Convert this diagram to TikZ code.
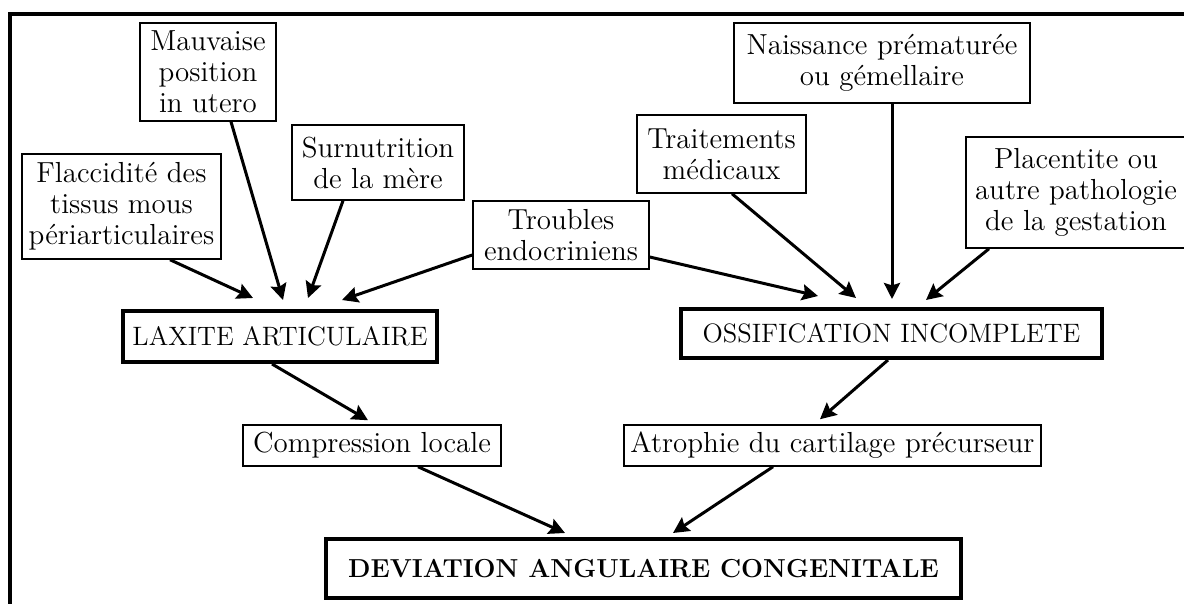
\documentclass[tikz,border=0pt]{standalone}
\usepackage{tikz}
\usetikzlibrary{arrows.meta,calc}

\begin{document}
\begin{tikzpicture}[x=0.5pt,y=-0.5pt,
  box/.style={draw,line width=0.75pt,align=center,inner sep=0pt,font=\fontsize{14.5}{15.5}\selectfont},
  bigbox/.style={draw,line width=2pt,inner sep=0pt,font=\fontsize{13.3}{15}\selectfont},
  arr/.style={line width=1.5pt,-{Stealth[length=8pt,width=8pt,inset=1.2pt]}}]
\useasboundingbox (0,0) rectangle (1184,604);
\draw[line width=2pt] (10,604) -- (10,14) -- (1184,14);
% causes
\node[box,minimum width=99.5pt,minimum height=52.5pt] (flac) at (121.5,206.5) {Flaccidité des\\tissus mous\\périarticulaires};
\node[box,minimum width=68pt,minimum height=49pt] (mauv) at (208,72) {Mauvaise\\position\\in utero};
\node[box,minimum width=86pt,minimum height=37.5pt] (surn) at (378,162.5) {Surnutrition\\de la mère};
\node[box,minimum width=88pt,minimum height=34pt] (troub) at (561,235) {Troubles\\endocriniens};
\node[box,minimum width=84.5pt,minimum height=39pt] (trait) at (721.5,154) {Traitements\\médicaux};
\node[box,minimum width=148pt,minimum height=40pt] (naiss) at (882,63) {Naissance prématurée\\ou gémellaire};
\node[box,minimum width=110pt,minimum height=55.5pt] (plac) at (1076,192.5) {Placentite ou\\autre pathologie\\de la gestation};
% effects
\node[bigbox,minimum width=157pt,minimum height=25.5pt] (lax) at (280,336.5) {LAXITE ARTICULAIRE};
\node[bigbox,minimum width=210.5pt,minimum height=24.5pt] (ossif) at (891.5,333.5) {OSSIFICATION INCOMPLETE};
\node[box,minimum width=129pt,minimum height=20.5pt] (comp) at (372,445.5) {Compression locale};
\node[box,minimum width=208.5pt,minimum height=20.5pt] (atro) at (832.5,445.5) {Atrophie du cartilage précurseur};
\node[bigbox,minimum width=317.5pt,minimum height=29.5pt,font=\fontsize{13}{15}\selectfont\bfseries] (devi) at (643.5,568.5) {DEVIATION ANGULAIRE CONGENITALE};
% arrows
\draw[arr] ($(flac.south)+(48.5,0)$) -- ($(lax.north)+(-27,-11)$);
\draw[arr] ($(mauv.south)+(23,0)$) -- ($(lax.north)+(3,-9)$);
\draw[arr] ($(surn.south)+(-35,0)$) -- ($(lax.north)+(28,-11)$);
\draw[arr] ($(troub.west)+(0,20)$) -- ($(lax.north)+(62,-9)$);
\draw[arr] ($(troub.east)+(0,22)$) -- ($(ossif.north)+(-73.5,-11)$);
\draw[arr] ($(trait.south)+(10.5,0)$) -- ($(ossif.north)+(-35.5,-9)$);
\draw[arr] ($(naiss.south)+(10,0)$) -- ($(ossif.north)+(0.5,-8)$);
\draw[arr] ($(plac.south)+(-87,0)$) -- ($(ossif.north)+(34.5,-7)$);
\draw[arr] ($(lax.south)+(-8,0)$) -- ($(comp.north)+(-4,-4)$);
\draw[arr] ($(ossif.south)+(-3.5,0)$) -- ($(atro.north)+(-12.5,-5)$);
\draw[arr] ($(comp.south)+(46,0)$) -- ($(devi.north)+(-78.5,-4)$);
\draw[arr] ($(atro.south)+(-59.5,0)$) -- ($(devi.north)+(29.5,-4)$);
\end{tikzpicture}
\end{document}
